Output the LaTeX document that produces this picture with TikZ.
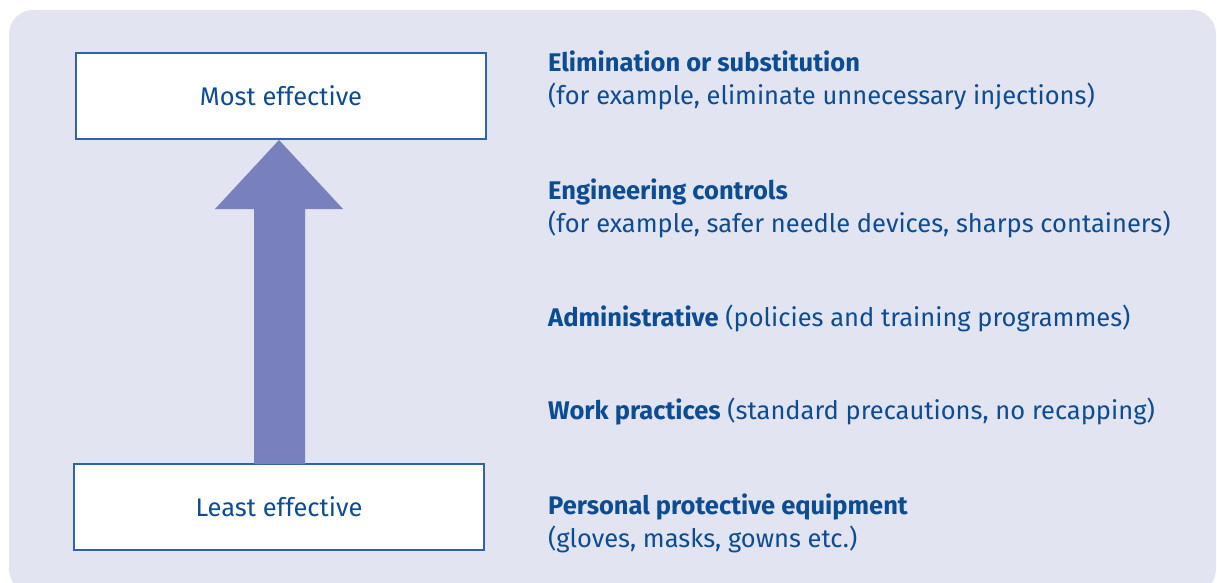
\documentclass[tikz,border=0pt]{standalone}
\usepackage{fontspec}
\setmainfont{Fira Sans}
\usetikzlibrary{positioning,calc}
\definecolor{panel}{HTML}{E2E4F1}
\definecolor{frame}{HTML}{2F63A8}
\definecolor{arrowfill}{HTML}{7880BE}
\definecolor{ink}{HTML}{0B4C93}
\tikzset{
  level/.style={draw=frame,line width=1.5pt,fill=white,minimum width=410pt,minimum height=86pt,
    text=ink,font=\fontsize{25.5}{30}\selectfont},
  item/.style={anchor=base west,inner sep=0pt,text=ink,font=\fontsize{25.5}{30}\selectfont},
}
\begin{document}
\begin{tikzpicture}[x=1pt,y=-1pt]
   \useasboundingbox (0,0) rectangle (1217,583);
   \fill[panel,rounded corners=24pt] (9,10) rectangle (1216,593);

   \node[level] (most) at (281,96) {Most effective};
   \node[level] (least) at (279,507) {Least effective};

   \fill[arrowfill] (254,464) -- (254,209) -- (215,209) -- (279,140) -- (343,209)
      -- (305,209) -- (305,464) -- cycle;

   \node[item] (t1) at (548,72) {\textbf{Elimination or substitution}};
   \node[item] (d1) at ([yshift=-33pt]t1.base west) {(for example, eliminate unnecessary injections)};
   \node[item] (t2) at (548,199) {\textbf{Engineering controls}};
   \node[item] (d2) at ([yshift=-33pt]t2.base west) {(for example, safer needle devices, sharps containers)};
   \node[item] (t3) at (548,326) {\textbf{Administrative} (policies and training programmes)};
   \node[item] (t4) at (548,419) {\textbf{Work practices} (standard precautions, no recapping)};
   \node[item] (t5) at (548,514) {\textbf{Personal protective equipment}};
   \node[item] (d5) at ([yshift=-33pt]t5.base west) {(gloves, masks, gowns etc.)};
\end{tikzpicture}
\end{document}
